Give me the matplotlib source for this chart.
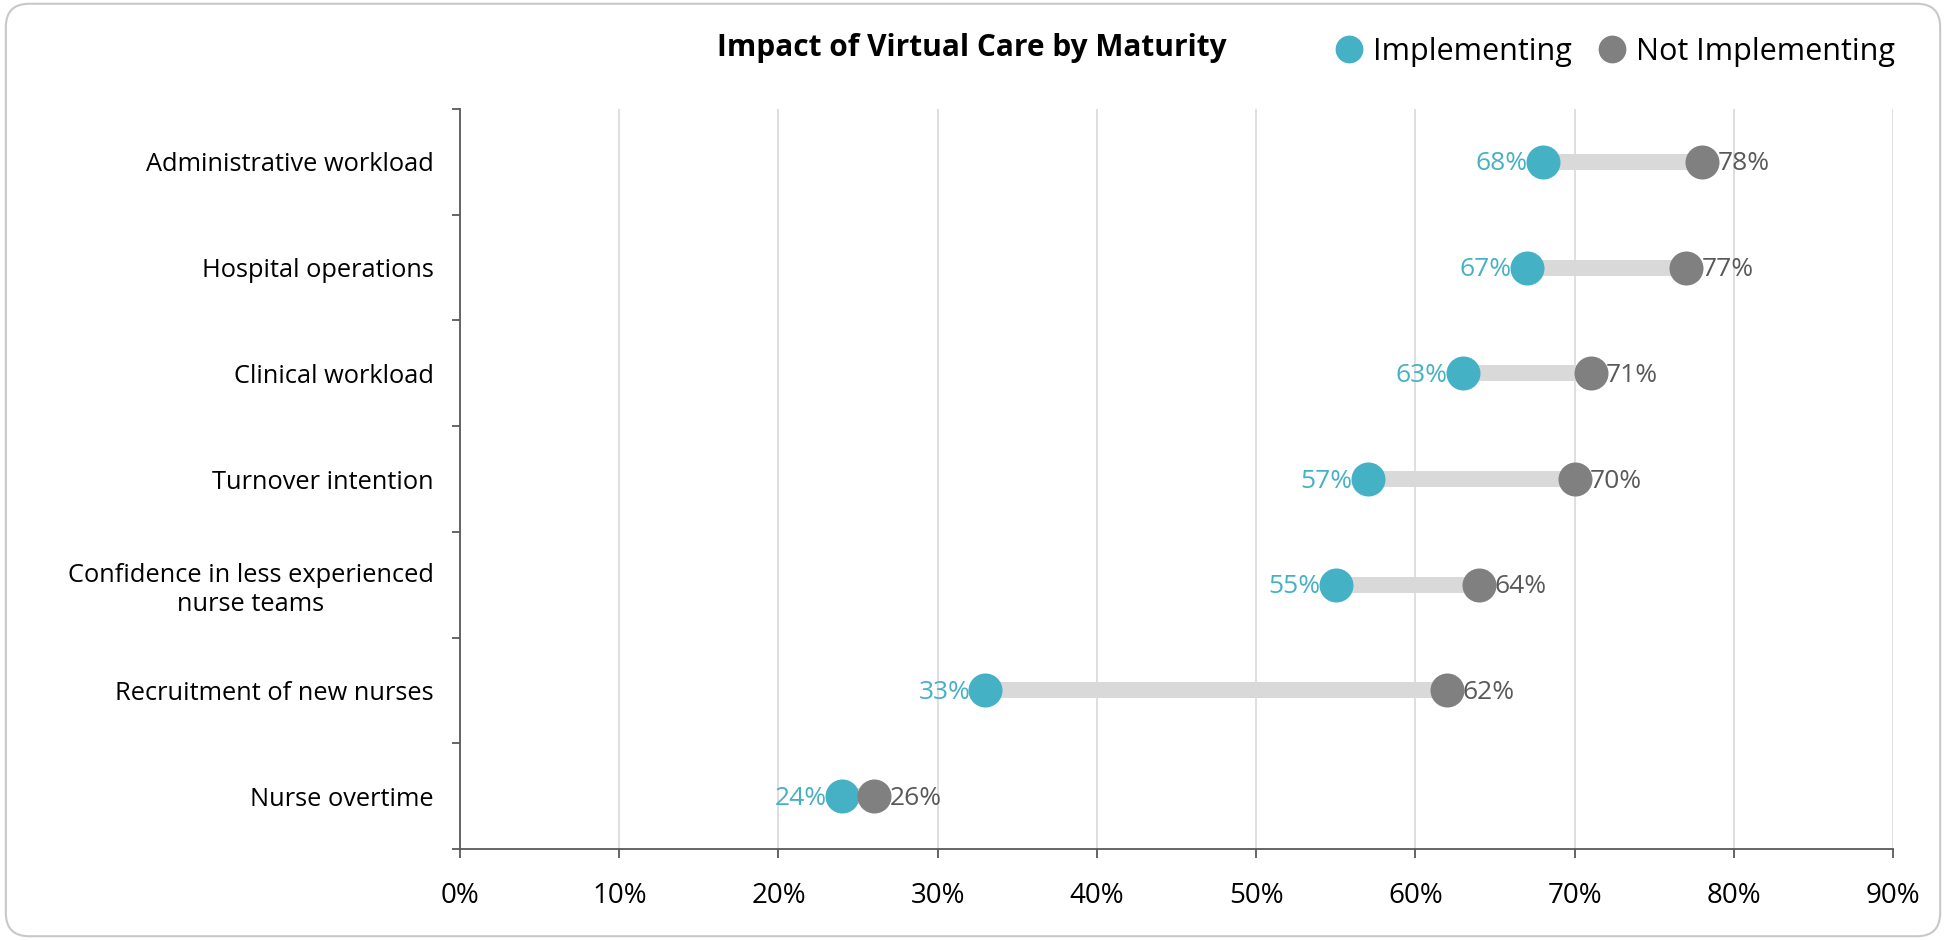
import matplotlib
matplotlib.use("Agg")
import matplotlib.pyplot as plt
from matplotlib.patches import FancyBboxPatch
from matplotlib.lines import Line2D
import numpy as np

plt.rcParams['font.family'] = ['Open Sans', 'DejaVu Sans']

# данные с картинки, сверху вниз
categories = [
    "Administrative workload",
    "Hospital operations",
    "Clinical workload",
    "Turnover intention",
    "Confidence in less experienced\nnurse teams",
    "Recruitment of new nurses",
    "Nurse overtime",
]
implementing = [68, 67, 63, 57, 55, 33, 24]
not_implementing = [78, 77, 71, 70, 64, 62, 26]
x_ticks = [0, 10, 20, 30, 40, 50, 60, 70, 80, 90]

TEAL = "#45B1C5"
GREY = "#808080"
BAR = "#D9D9D9"
AXIS = "#595959"

fig = plt.figure(figsize=(19.46, 9.4), dpi=100)
ax = fig.add_axes([0.2364, 0.0968, 0.7364, 0.7872])

# рамка вокруг всей картинки
frame = FancyBboxPatch((0.003, 0.004), 0.994, 0.992, boxstyle="round,pad=0,rounding_size=0.012",
                       transform=fig.transFigure, fill=False, edgecolor="#C8C8C8", linewidth=1.5,
                       mutation_aspect=1946 / 940)
fig.patches.append(frame)

y = np.arange(len(categories))

# серые полоски между точками
for i in range(len(categories)):
    ax.plot([implementing[i], not_implementing[i]], [y[i], y[i]], color=BAR,
            linewidth=11.5, solid_capstyle="butt", zorder=2)

ax.plot(implementing, y, "o", color=TEAL, markersize=24.5, markeredgewidth=0, zorder=3)
ax.plot(not_implementing, y, "o", color=GREY, markersize=24.5, markeredgewidth=0, zorder=3)

for i in range(len(categories)):
    ax.annotate(f"{implementing[i]}%", (implementing[i], y[i]), xytext=(-11, -1.5),
                textcoords="offset points", ha="right", va="center", fontsize=19, color=TEAL, zorder=4)
    ax.annotate(f"{not_implementing[i]}%", (not_implementing[i], y[i]), xytext=(11, -1.5),
                textcoords="offset points", ha="left", va="center", fontsize=19, color=AXIS, zorder=4)

ax.set_xlim(0, 90)
ax.set_ylim(len(categories) - 0.5, -0.5)
ax.set_xticks(x_ticks)
ax.set_xticklabels([f"{t}%" for t in x_ticks])
ax.set_yticks(y)
ax.set_yticklabels(categories, multialignment="center")
ax.set_yticks(np.arange(len(categories) + 1) - 0.5, minor=True)

ax.tick_params(axis="y", which="major", length=0, pad=19, labelsize=18.3)
ax.tick_params(axis="y", which="minor", length=6, width=1.3, color=AXIS, direction="out")
ax.tick_params(axis="x", length=6.5, width=1.3, color=AXIS, pad=17, labelsize=20)

ax.grid(axis="x", color=BAR, linewidth=1.2, zorder=0)
ax.set_axisbelow(True)
for s in ["top", "right"]:
    ax.spines[s].set_visible(False)
for s in ["left", "bottom"]:
    ax.spines[s].set_color(AXIS)
    ax.spines[s].set_linewidth(1.3)

fig.text(0.4995, 0.949, "Impact of Virtual Care by Maturity", ha="center", va="center",
         fontsize=21.5, fontweight="bold")

handles = [
    Line2D([], [], marker="o", linestyle="", color=TEAL, markersize=20, markeredgewidth=0),
    Line2D([], [], marker="o", linestyle="", color=GREY, markersize=20, markeredgewidth=0),
]
fig.legend(handles, ["Implementing", "Not Implementing"], loc="center right",
           bbox_to_anchor=(0.988, 0.945), ncol=2, frameon=False, fontsize=22,
           handletextpad=0.3, columnspacing=0.8, handlelength=1.0)

fig.savefig("out.png", dpi=100)
